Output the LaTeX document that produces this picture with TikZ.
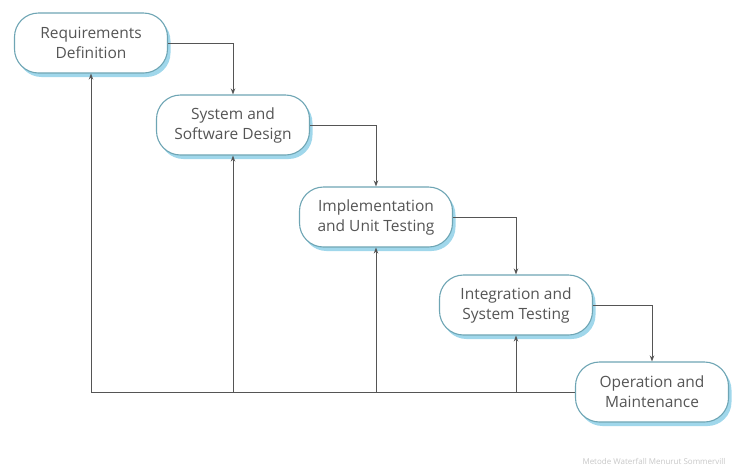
\documentclass[tikz,border=0pt]{standalone}
\usepackage{fontspec}
\setmainfont{Open Sans}
\usepackage{xcolor}
\definecolor{phaseedge}{RGB}{110,165,180}
\definecolor{phaseshade}{RGB}{160,215,235}
\definecolor{phasetext}{RGB}{85,85,85}
\definecolor{flowgray}{RGB}{85,85,85}
\usepackage{tikz}
\usetikzlibrary{arrows.meta, positioning, calc, shadows}
\tikzset{
  phase/.style={
    rectangle, rounded corners=24pt, draw=phaseedge, line width=1.1pt,
    fill=white, minimum width=153pt, minimum height=60pt,
    align=center, text=phasetext, inner xsep=4pt,
    font=\fontsize{15.5}{20}\selectfont,
    drop shadow={shadow xshift=3pt, shadow yshift=-4pt,
                 fill=phaseshade, opacity=1}
  },
  arrow/.style={line width=0.9pt, -{Stealth[length=6pt,width=4.5pt]}, color=flowgray},
  flow/.style={line width=0.9pt, color=flowgray},
}

\begin{document}
\begin{tikzpicture}[x=1pt, y=-1pt]
  \useasboundingbox (0,0) rectangle (732,475);

  \node (req)    [phase] at (91,43)   {Requirements\\Definition};
  \node (design) [phase] at (233,125) {System and\\Software Design};
  \node (impl)   [phase] at (376,217) {Implementation\\and Unit Testing};
  \node (integ)  [phase] at (516,305) {Integration and\\System Testing};
  \node (oper)   [phase] at (652,392) {Operation and\\Maintenance};

  \node (caption) [anchor=east, text=black!22, font=\fontsize{8}{10}\selectfont]
        at (729,461) {Metode Waterfall Menurut Sommervill};

  % down the cascade
  \draw [arrow] (req.east)    -| (design.north);
  \draw [arrow] (design.east) -| (impl.north);
  \draw [arrow] (impl.east)   -| (integ.north);
  \draw [arrow] (integ.east)  -| (oper.north);

  % feedback back up
  \coordinate (fb1) at (req.south |- oper.west);
  \coordinate (fb2) at (design.south |- oper.west);
  \coordinate (fb3) at (impl.south |- oper.west);
  \coordinate (fb4) at (integ.south |- oper.west);
  \draw [flow] (oper.west) -- (fb1);
  \draw [arrow] (fb1) -- (req.south);
  \draw [arrow] (fb2) -- (design.south);
  \draw [arrow] (fb3) -- (impl.south);
  \draw [arrow] (fb4) -- (integ.south);
\end{tikzpicture}
\end{document}
